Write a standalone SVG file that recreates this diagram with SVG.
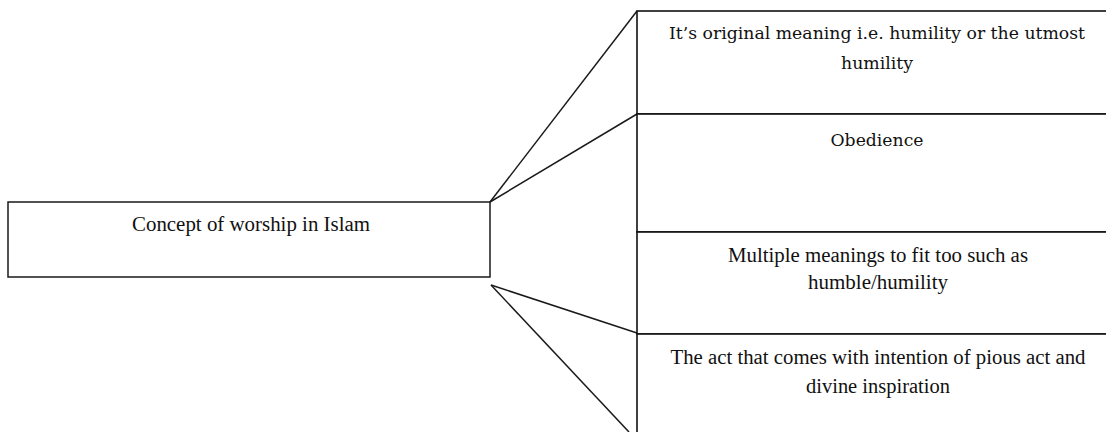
<svg xmlns="http://www.w3.org/2000/svg" width="1106" height="432" viewBox="0 0 1106 432">
<style>
.box{fill:#fff;stroke:#1a1a1a;stroke-width:1.5}
.rb{fill:#fff;stroke:#111;stroke-width:1.6}
.t{font-family:"Liberation Serif",serif;font-size:20px;fill:#111;text-anchor:middle}
.c{font-family:"DejaVu Serif",serif;font-size:17px;fill:#111;text-anchor:middle}
.ln{stroke:#1a1a1a;stroke-width:1.5;fill:none}
</style>
<rect width="1106" height="432" fill="#fff"/>
<g id="connectors">
<line class="ln" x1="490" y1="202" x2="637" y2="11"/>
<line class="ln" x1="490" y1="202" x2="637" y2="114"/>
<line class="ln" x1="491" y1="285" x2="637" y2="333"/>
<line class="ln" x1="491" y1="285" x2="629" y2="432"/>
</g>
<g id="concept">
<rect class="box" x="8" y="202" width="482" height="75"/>
<text class="t" x="251" y="231" textLength="238" lengthAdjust="spacingAndGlyphs">Concept of worship in Islam</text>
</g>
<g id="meaning">
<rect class="rb" x="637" y="11" width="480" height="103"/>
<text class="c" x="877" y="39" textLength="416" lengthAdjust="spacingAndGlyphs">It’s original meaning i.e. humility or the utmost</text>
<text class="c" x="877" y="69" textLength="72" lengthAdjust="spacingAndGlyphs">humility</text>
</g>
<g id="obedience">
<rect class="rb" x="637" y="114" width="480" height="118"/>
<text class="c" x="877" y="146" textLength="93" lengthAdjust="spacingAndGlyphs">Obedience</text>
</g>
<g id="multiple">
<rect class="rb" x="637" y="232" width="480" height="102"/>
<text class="t" x="878" y="262" textLength="300" lengthAdjust="spacingAndGlyphs">Multiple meanings to fit too such as</text>
<text class="t" x="878" y="289" textLength="140" lengthAdjust="spacingAndGlyphs">humble/humility</text>
</g>
<g id="act">
<rect class="rb" x="637" y="334" width="480" height="110"/>
<text class="t" x="878" y="364" textLength="415" lengthAdjust="spacingAndGlyphs">The act that comes with intention of pious act and</text>
<text class="t" x="878" y="393" textLength="144" lengthAdjust="spacingAndGlyphs">divine inspiration</text>
</g>
</svg>
